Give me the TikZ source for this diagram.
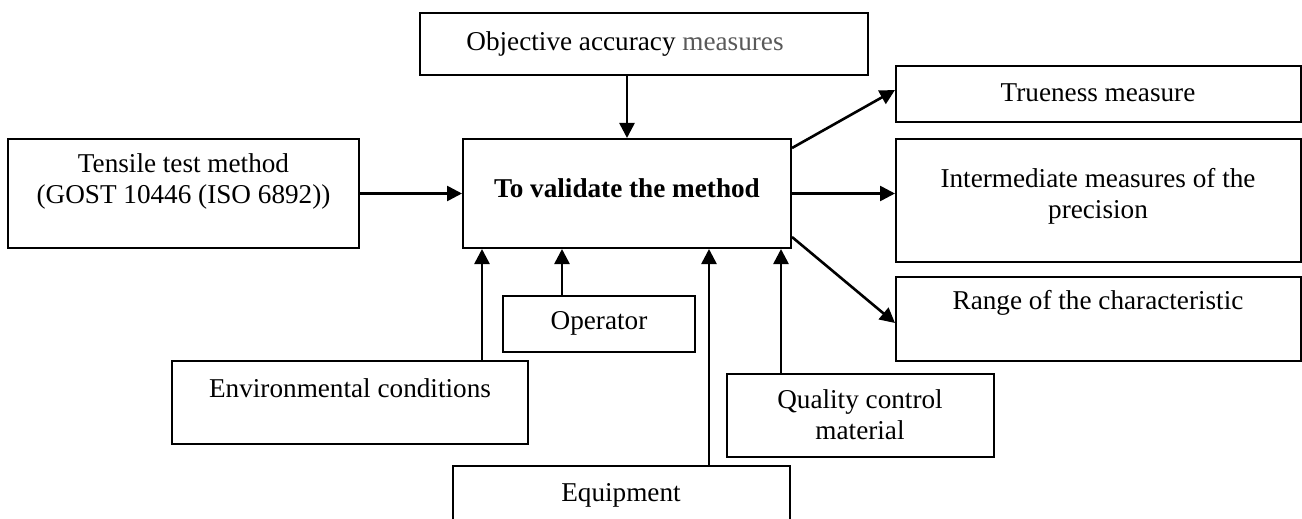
\documentclass[tikz,border=0pt]{standalone}
\usepackage{fontspec}
\setmainfont{Liberation Serif}
\usetikzlibrary{arrows.meta}
\definecolor{measgray}{HTML}{595959}
\tikzset{
  box/.style={draw=black, line width=2bp, inner sep=0pt},
  lbl/.style={align=center, inner sep=0pt, font=\fontsize{27.2bp}{31bp}\selectfont},
  conn/.style={line width=2.6bp, -{Triangle[length=15bp,width=15bp]}},
}
\begin{document}
\begin{tikzpicture}[x=1bp,y=-1bp]
\clip (0,0) rectangle (1302,519);
\fill[white] (0,0) rectangle (1302,519);
% boxes
\node[box, minimum width=448bp, minimum height=62bp]  (obj)   at (644,44) {};
\node[box, minimum width=328bp, minimum height=109bp] (main)  at (627,193.5) {};
\node[box, minimum width=351bp, minimum height=109bp] (tens)  at (183.5,193.5) {};
\node[box, minimum width=405bp, minimum height=56bp]  (true)  at (1098.5,94) {};
\node[box, minimum width=405bp, minimum height=123bp] (inter) at (1098.5,200.5) {};
\node[box, minimum width=405bp, minimum height=84bp]  (range) at (1098.5,319) {};
\node[box, minimum width=192bp, minimum height=56bp]  (oper)  at (599,324) {};
\node[box, minimum width=356bp, minimum height=83bp]  (env)   at (350,402.5) {};
\node[box, minimum width=267bp, minimum height=83bp]  (qual)  at (860.5,415.5) {};
\node[box, minimum width=337bp, minimum height=110bp] (equip) at (621.5,521) {};
% texts
\node[lbl] (objt)   at (625,44)   {Objective accuracy {\color{measgray}measures}};
\node[lbl] (maint)  at (627,188)  {\bfseries To validate the method};
\node[lbl] (tenst)  at (183.5,181) {Tensile test method\\(GOST 10446 (ISO 6892))};
\node[lbl] (truet)  at (1098,93)  {Trueness measure};
\node[lbl] (intert) at (1098,196) {Intermediate measures of the\\precision};
\node[lbl] (ranget) at (1098,303) {Range of the characteristic};
\node[lbl] (opert)  at (599,323)  {Operator};
\node[lbl] (envt)   at (350,388)  {Environmental conditions};
\node[lbl] (qualt)  at (860,415)  {Quality control\\material};
\node[lbl] (equipt) at (621,495)  {Equipment};
% connectors
\draw[conn] (obj.south -| main.north) -- (main.north);
\draw[conn] (tens.east) -- (main.west);
\draw[conn] (main.east |- 0,148) -- (true.west |- 0,90);
\draw[conn] (main.east) -- (main.east -| inter.west);
\draw[conn] (main.east |- 0,237) -- (range.west |- 0,323);
\draw[conn] (env.north -| 482,0) -- (main.south -| 482,0);
\draw[conn] (oper.north -| 562,0) -- (main.south -| 562,0);
\draw[conn] (equip.north -| 709,0) -- (main.south -| 709,0);
\draw[conn] (qual.north -| 781,0) -- (main.south -| 781,0);
\end{tikzpicture}
\end{document}
